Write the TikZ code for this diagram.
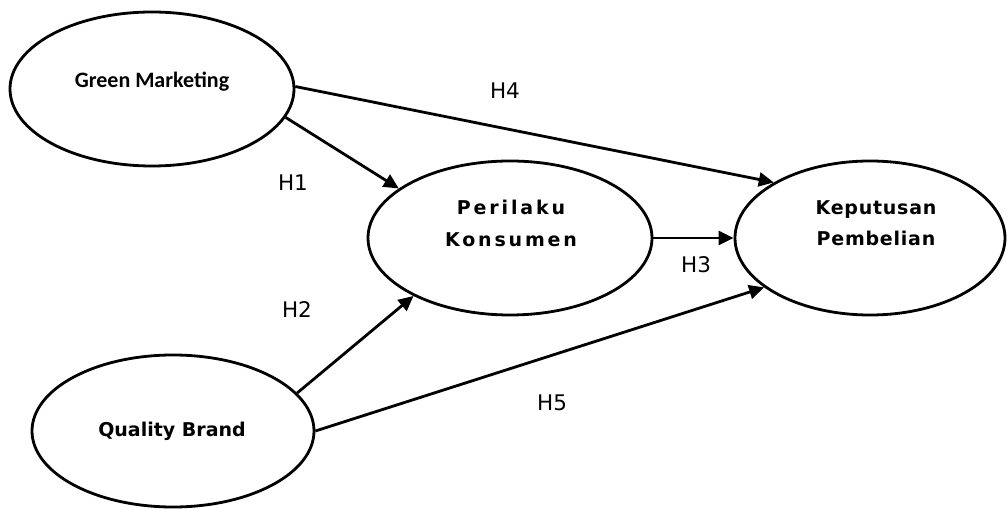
\documentclass[tikz,border=0pt]{standalone}
\usepackage{fontspec}
\setmainfont{Carlito}
\newfontfamily\verdFont{DejaVu Sans}
\newfontfamily\wideFont[LetterSpace=15]{DejaVu Sans}
\newfontfamily\midFont[LetterSpace=4]{DejaVu Sans}
\usetikzlibrary{shapes.geometric, arrows.meta}

\tikzset{
  latent/.style={draw, ellipse, line width=2.8pt, inner sep=0pt, minimum width=284pt, minimum height=154pt},
  path/.style={line width=2.8pt, -{Triangle[length=15pt, width=14pt]}},
  hyp/.style={font=\fontsize{21.5}{25}\selectfont\verdFont}
}

\begin{document}
\begin{tikzpicture}[x=1pt, y=-1pt]
      \useasboundingbox (0, 0) rectangle (1007, 510);

      % Konstruk
      \node[latent] (gm) at (152, 89) {};
      \node[latent] (pk) at (510, 238) {};
      \node[latent, minimum width=270pt] (kp) at (870, 238) {};
      \node[latent, minimum width=282pt, minimum height=152pt] (qb) at (173, 431) {};

      \node[font=\fontsize{22}{26}\selectfont\bfseries] (gmtext) at (152, 82) {Green Marketing};
      \node[font=\fontsize{19}{32}\selectfont\wideFont\bfseries, align=center] (pktext) at (511, 223) {Perilaku\\Konsumen};
      \node[font=\fontsize{19}{31}\selectfont\midFont\bfseries, align=center] (kptext) at (876, 223) {Keputusan\\Pembelian};
      \node[font=\fontsize{19}{26}\selectfont\verdFont\bfseries] (qbtext) at (172, 431) {Quality Brand};

      % Hipotesis
      \draw[path] (gm.-12.5) -- (pk.156);
      \draw[path] (qb.17.5) -- (pk.211);
      \draw[path] (pk.0) -- (kp.180);
      \draw[path] (gm.1) -- (kp.150);
      \draw[path] (qb.0) -- (kp.205.4);

      \node[hyp] (h1) at (293, 183) {H1};
      \node[hyp] (h2) at (297, 310) {H2};
      \node[hyp] (h3) at (696, 265) {H3};
      \node[hyp] (h4) at (505, 91) {H4};
      \node[hyp] (h5) at (552, 403) {H5};
    \end{tikzpicture}
\end{document}
